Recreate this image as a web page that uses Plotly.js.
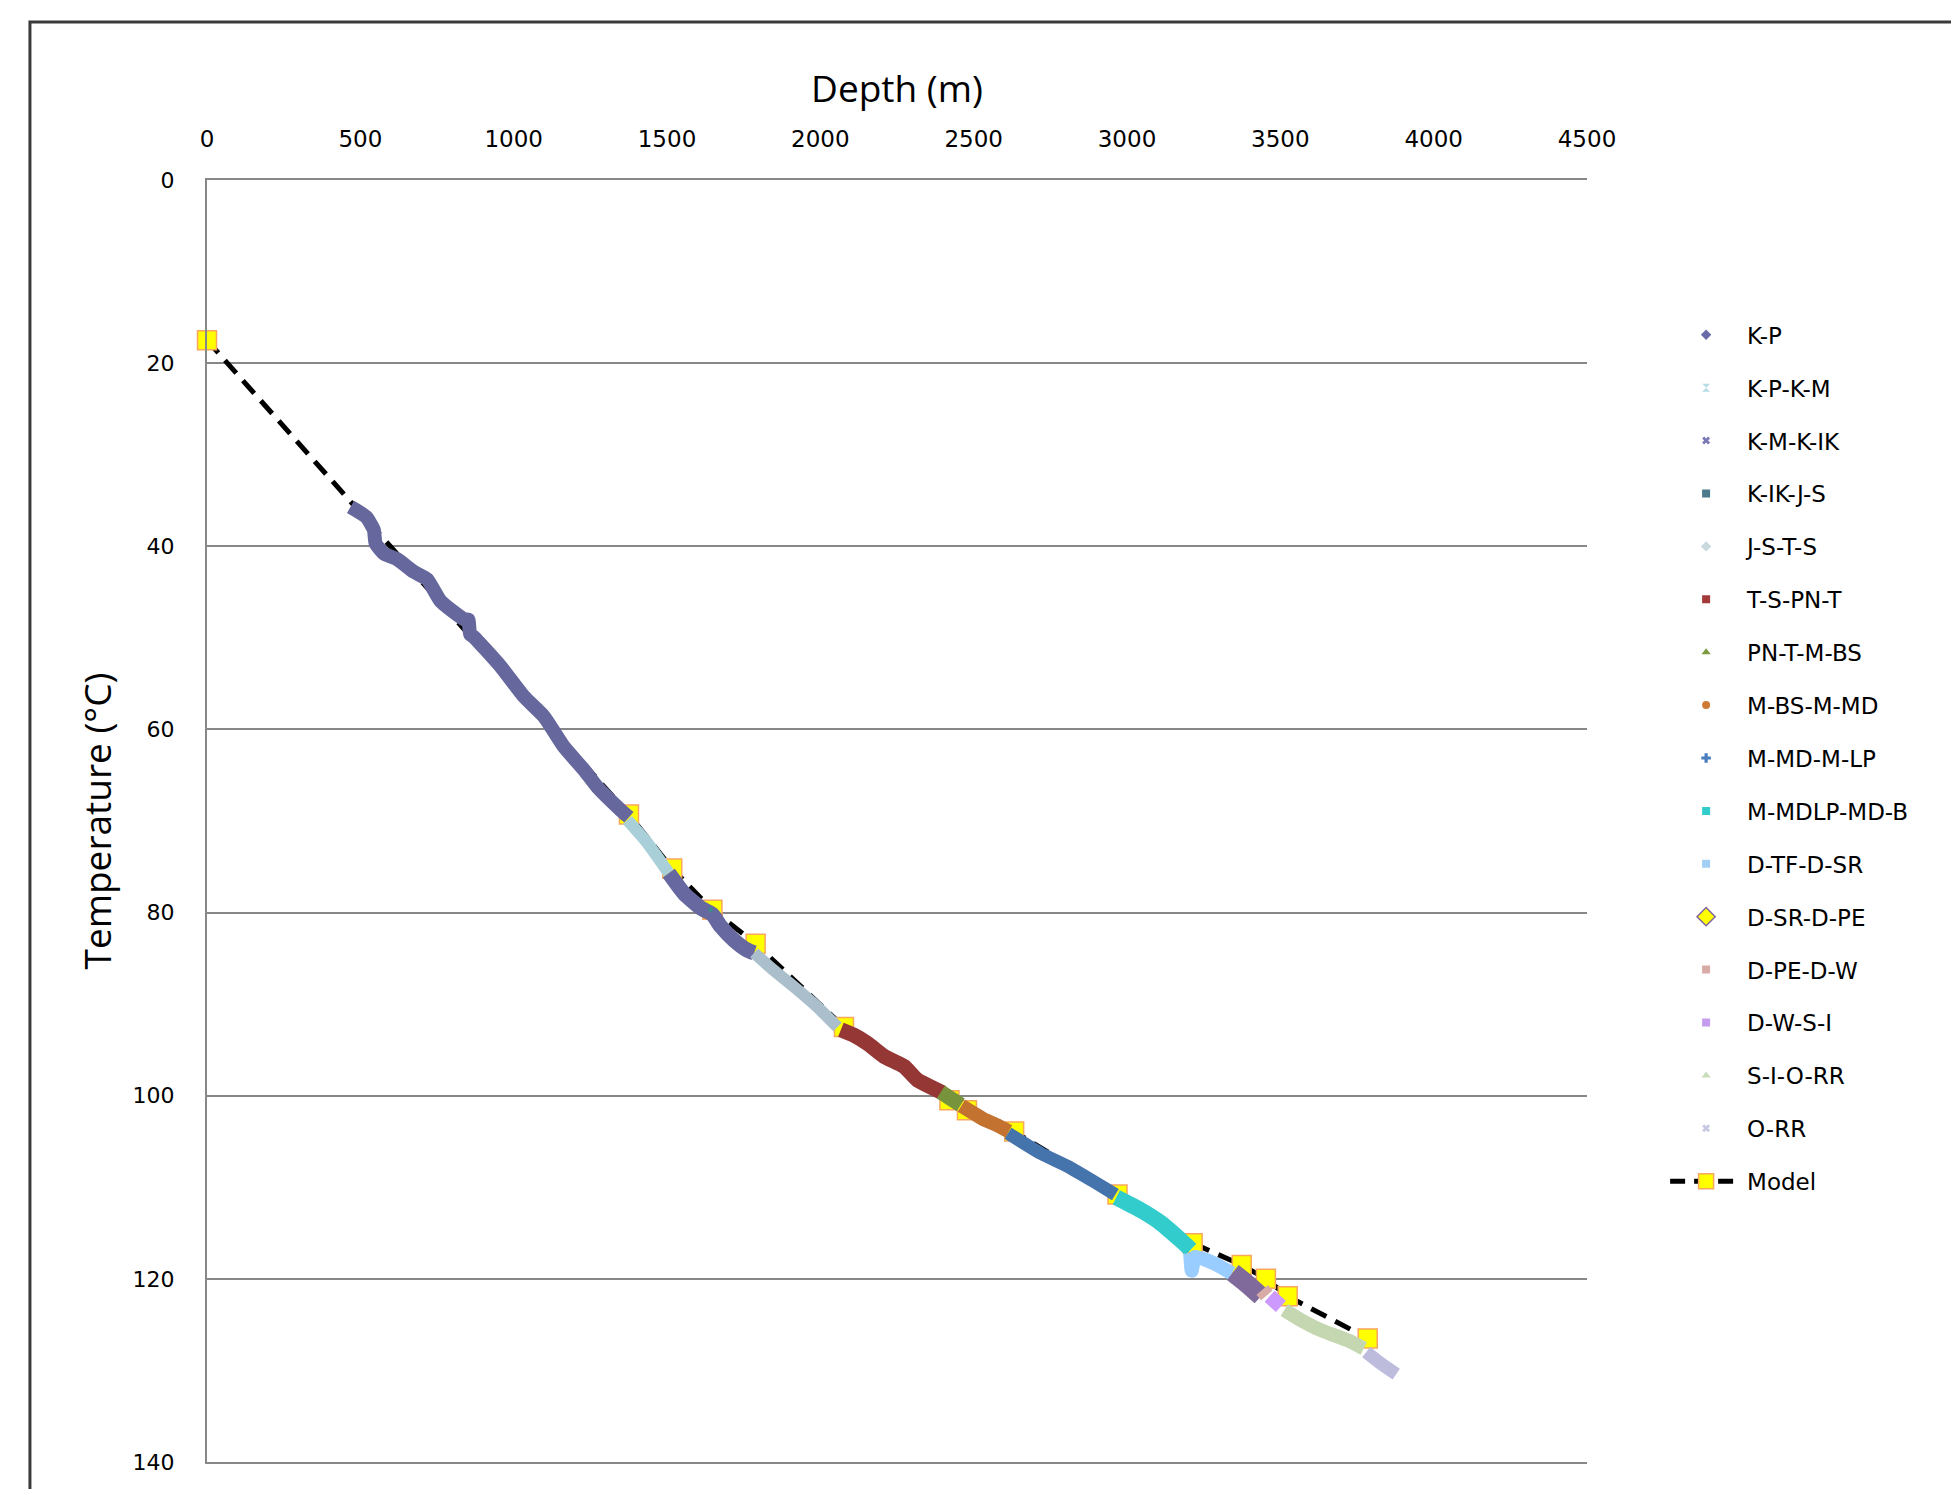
<!DOCTYPE html>
<html>
<head>
<meta charset="utf-8">
<script src="https://cdn.plot.ly/plotly-3.0.1.min.js"></script>
<style>html,body{margin:0;padding:0;background:#fff;}#chart{width:1951px;height:1489px;}</style>
</head>
<body>
<div id="chart"></div>
<script>
// ---- data (depth in m, temperature in °C) ----
const seriesNames = ["K-P","K-P-K-M","K-M-K-IK","K-IK-J-S","J-S-T-S","T-S-PN-T","PN-T-M-BS","M-BS-M-MD","M-MD-M-LP","M-MDLP-MD-B","D-TF-D-SR","D-SR-D-PE","D-PE-D-W","D-W-S-I","S-I-O-RR","O-RR"];

const kpDepth   = [468,519,544,550,577,620,675,718,762,840,852,858,870,957,1033,1099,1164,1229,1273,1349,1376];
const kpTemp    = [35.7,36.8,38.2,39.7,40.8,41.4,42.8,43.6,46.0,48.0,48.0,49.6,49.9,53.1,56.4,58.6,61.9,64.4,66.3,68.8,69.6];
const kpkmDepth = [1371,1436,1506];
const kpkmTemp  = [69.9,72.4,75.7];
const kmkikDepth= [1506,1555,1610,1648,1675,1718,1762,1784];
const kmkikTemp = [75.7,77.9,79.5,80.2,81.5,83.0,84.1,84.4];
const kikjsDepth= [1638,1646];
const kikjsTemp = [79.5,79.9];
const jstsDepth = [1784,1848,1914,1990,2056];
const jstsTemp  = [84.4,86.3,88.1,90.3,92.5];
const tspntDepth= [2067,2110,2154,2208,2273,2317,2382,2400];
const tspntTemp = [92.8,93.4,94.3,95.7,96.8,98.3,99.4,99.7];
const pntmbsDepth=[2393,2425,2458];
const pntmbsTemp= [99.6,100.3,101.0];
const mbsmmdDepth=[2460,2534,2575,2615];
const mbsmmdTemp= [101.1,102.6,103.2,103.9];
const mmdmlpDepth=[2612,2719,2806,2893,2962];
const mmdmlpTemp= [104.1,106.3,107.7,109.4,110.8];
const mmdlpDepth= [2965,3045,3110,3176,3208];
const mmdlpTemp = [111.1,112.5,113.9,115.8,116.8];
const dtfDepth  = [3206,3211,3222,3284,3342];
const dtfTemp   = [117.2,119.1,117.6,118.3,119.4];
const dsrDepth  = [3345,3390,3437];
const dsrTemp   = [119.3,120.5,121.9];
const dpeDepth  = [3441,3456];
const dpeTemp   = [121.2,121.8];
const dwDepth   = [3465,3502];
const dwTemp    = [121.9,123.0];
const siDepth   = [3513,3567,3632,3719,3772];
const siTemp    = [123.4,124.5,125.6,126.7,127.6];
const orrDepth  = [3780,3830,3878];
const orrTemp   = [128.0,129.3,130.4];

const modelDepth = [0,1376,1517,1648,1789,2077,2421,2478,2632,2969,3214,3374,3453,3524,3785];
const modelTemp  = [17.5,69.3,75.2,79.7,83.4,92.5,100.5,101.6,103.9,110.8,116.1,118.5,120.0,121.9,126.5];

const xTickVals = [0,500,1000,1500,2000,2500,3000,3500,4000,4500];
const yTickVals = [0,20,40,60,80,100,120,140];

// ---- styles ----
const depthArr = [kpDepth,kpkmDepth,kmkikDepth,kikjsDepth,jstsDepth,tspntDepth,pntmbsDepth,mbsmmdDepth,mmdmlpDepth,mmdlpDepth,dtfDepth,dsrDepth,dpeDepth,dwDepth,siDepth,orrDepth];
const tempArr  = [kpTemp,kpkmTemp,kmkikTemp,kikjsTemp,jstsTemp,tspntTemp,pntmbsTemp,mbsmmdTemp,mmdmlpTemp,mmdlpTemp,dtfTemp,dsrTemp,dpeTemp,dwTemp,siTemp,orrTemp];
const bandColors = ["#66679D","#A9CFD9","#67689F","#3E8A8A","#ABBECB","#953735","#77933C","#C4722F","#4573AC","#33CCCC","#99CCFF","#7F6A9B","#D9ABA6","#CC99FF","#C5D7B1","#BDBCDC"];
const bandWidths = [14,12,15,4,12,15,15,14,13,16,14,19,15,15,14,13];
const legSymbols = ["diamond","hourglass","x","square","diamond","square","triangle-up","circle","cross","square","square","diamond","square","square","triangle-up","x"];
const legColors  = ["#6869A8","#B7DDE6","#7A7AB8","#4D7B8B","#C9D9DE","#A33A39","#7C9A3E","#D07B35","#4A7DBD","#33CCCC","#A4CFF5","#FFFF00","#D9ABA6","#C59CF0","#C9DDB9","#C9C9E3"];
const legSizes   = [8,8,7,8,8,8,8,8,8,8,8,14,8,8,8,7];

const traces = [];
// model underneath
traces.push({x: modelDepth, y: modelTemp, mode: "lines+markers", showlegend: false, hoverinfo: "skip", cliponaxis: false,
  line: {color: "#000000", width: 5, dash: "17px,10px"},
  marker: {symbol: "square", size: 19, color: "#FFFF00", line: {color: "#F7A75E", width: 1.5}}});
for (let i = 0; i < seriesNames.length; i++) {
  if (i === 3) continue;
  traces.push({x: depthArr[i], y: tempArr[i], mode: "lines", showlegend: false, hoverinfo: "skip",
    line: {color: bandColors[i], width: bandWidths[i], shape: "spline", smoothing: 0.5}});
}
traces.push({x: depthArr[3], y: tempArr[3], mode: "lines", showlegend: false, hoverinfo: "skip",
  line: {color: bandColors[3], width: bandWidths[3]}});
// legend entries
for (let i = 0; i < seriesNames.length; i++) {
  traces.push({x: [null], y: [null], mode: "markers", name: seriesNames[i], legendgroup: "g" + i,
    marker: {symbol: legSymbols[i], size: legSizes[i], color: legColors[i],
      line: {color: i === 11 ? "#8064A2" : legColors[i], width: i === 11 ? 1.5 : 0}}});
}
traces.push({x: [null], y: [null], mode: "lines+markers", name: "Model", legendgroup: "gm",
  line: {color: "#000000", width: 5, dash: "15px,9px"},
  marker: {symbol: "square", size: 15, color: "#FFFF00", line: {color: "#F7A75E", width: 1.5}}});

const layout = {
  width: 1951, height: 1489,
  paper_bgcolor: "#ffffff", plot_bgcolor: "#ffffff",
  margin: {l: 207, r: 364, t: 180, b: 27, pad: 0},
  font: {family: "DejaVu Sans", size: 22, color: "#000000"},
  showlegend: true,
  xaxis: {
    side: "top", range: [0, 4500], tickvals: xTickVals, ticks: "", showgrid: false, zeroline: false,
    showline: true, mirror: true, linecolor: "#878787", linewidth: 2,
    tickfont: {family: "DejaVu Sans", size: 23, color: "#000"}, ticklabelstandoff: 22,
    title: {text: "Depth (m)", font: {family: "Open Sans", size: 37, color: "#000"}, standoff: 12},
    automargin: false, fixedrange: true
  },
  yaxis: {
    range: [140, 0], tickvals: yTickVals, ticks: "", showgrid: true, gridcolor: "#878787", gridwidth: 2,
    zeroline: false, showline: true, linecolor: "#878787", linewidth: 2,
    tickfont: {family: "DejaVu Sans", size: 22, color: "#000"}, ticklabelstandoff: 26,
    title: {text: "Temperature (°C)", font: {family: "Open Sans", size: 37, color: "#000"}, standoff: 10},
    automargin: false, fixedrange: true
  },
  legend: {
    x: 1.0566, xanchor: "left", y: 0.896, yanchor: "top",
    font: {family: "DejaVu Sans", size: 23, color: "#000"},
    traceorder: "grouped", tracegroupgap: 20, itemwidth: 72, bgcolor: "rgba(0,0,0,0)", borderwidth: 0
  },
  shapes: [{type: "rect", xref: "paper", yref: "paper", x0: -0.1283, x1: 1.35, y0: -0.06, y1: 1.1232,
    line: {color: "#3a3a3a", width: 3}, fillcolor: "rgba(0,0,0,0)", layer: "below"}]
};

Plotly.newPlot("chart", traces, layout, {staticPlot: true, displayModeBar: false});
</script>
</body>
</html>
